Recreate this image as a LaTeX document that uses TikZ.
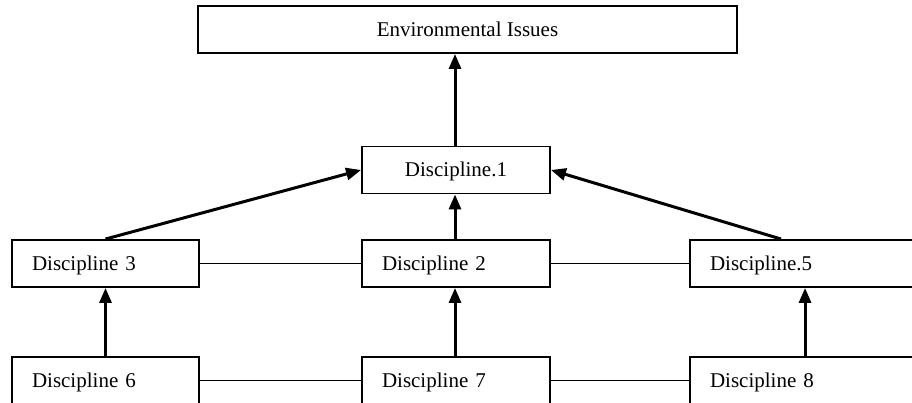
\documentclass[tikz,border=0pt]{standalone}
\usepackage{fontspec}
\setmainfont{Liberation Serif}
\usetikzlibrary{arrows.meta,calc}
\begin{document}
\begin{tikzpicture}[x=1pt,y=-1pt,
  box/.style={draw=black,line width=1.9pt,minimum height=47pt,inner sep=0pt,text height=14pt,text depth=0pt,font=\fontsize{21}{24}\selectfont},
  lbox/.style={box,inner xsep=20pt,text width=#1,align=left},
  cbox/.style={box,minimum width=#1,align=center},
  arr/.style={line width=3pt,-{Triangle[length=15pt,width=12pt]}},
  link/.style={line width=1.8pt}]
\useasboundingbox (0,0) rectangle (912,403);
\fill[white] (0,0) rectangle (912,403);
\node[cbox=539pt] (top) at (467.5,29.5) {Environmental Issues};
\node[cbox=188pt] (d1) at (456,170) {Discipline.1};
\node[lbox=147pt] (d3) at (105.5,263.5) {Discipline 3};
\node[lbox=148pt] (d2) at (456,263.5) {Discipline 2};
\node[lbox=185pt] (d5) at (802.5,263.5) {Discipline.5};
\node[lbox=147pt] (d6) at (105.5,380.5) {Discipline 6};
\node[lbox=148pt] (d7) at (456,380.5) {Discipline 7};
\node[lbox=185pt] (d8) at (802.5,380.5) {Discipline 8};
% horizontal links
\draw[link] (d3.east) -- (d2.west);
\draw[link] (d2.east) -- (d5.west);
\draw[link] (d6.east) -- (d7.west);
\draw[link] (d7.east) -- (d8.west);
% arrows
\draw[arr] ([xshift=-1pt]d1.north) -- ([xshift=-1pt]d1.north |- top.south);
\draw[arr] ([xshift=-1pt]d2.north) -- ([xshift=-1pt]d1.south);
\draw[arr] (d3.north) -- (d1.west);
\draw[arr] ([xshift=92pt]d5.north west) -- (d1.east);
\draw[arr] (d6.north) -- (d3.south);
\draw[arr] ([xshift=-1pt]d7.north) -- ([xshift=-1pt]d2.south);
\draw[arr] ([xshift=116pt]d8.north west) -- ([xshift=116pt]d5.south west);
\end{tikzpicture}
\end{document}
